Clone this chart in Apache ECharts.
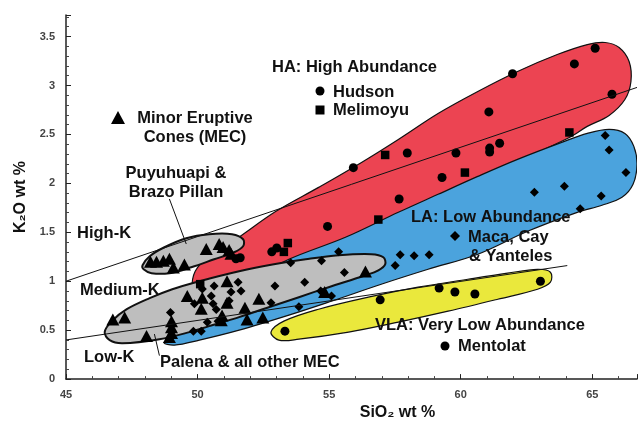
<!DOCTYPE html>
<html><head><meta charset="utf-8">
<script src="https://cdn.jsdelivr.net/npm/echarts@6/dist/echarts.min.js"></script>
<style>html,body{margin:0;padding:0;background:#fff}#c{width:640px;height:426px}</style>
</head><body><div id="c"></div>
<script>
// ---- tick labels ----
const xTickLabels = [45, 50, 55, 60, 65];
const yTickLabels = [0, 0.5, 1, 1.5, 2, 2.5, 3, 3.5];

// ---- data points [SiO2, K2O] ----
const hudson = [[65.11,3.38],[64.32,3.22],[61.97,3.12],[65.75,2.91],[61.07,2.73],[61.48,2.41],[61.10,2.36],[61.10,2.32],[59.82,2.31],[59.29,2.06],[57.97,2.31],[57.66,1.84],[55.92,2.16],[54.94,1.56],[53.01,1.34],[52.82,1.30],[51.62,1.24],[51.46,1.23]];
const melimoyu = [[57.13,2.29],[60.16,2.11],[64.13,2.52],[56.87,1.63],[53.43,1.39],[53.28,1.30],[50.10,0.97]];
const mentolat = [[53.32,0.49],[56.94,0.81],[59.18,0.93],[59.78,0.89],[60.54,0.87],[63.03,1.00]];
const macaCayYanteles = [[65.49,2.49],[65.64,2.34],[66.28,2.11],[63.94,1.97],[62.80,1.91],[65.34,1.87],[64.54,1.74],[57.70,1.27],[58.23,1.26],[58.80,1.27],[57.51,1.16],[55.36,1.30],[54.71,1.21],[53.54,1.19],[55.58,1.09],[54.07,0.99],[52.94,0.95],[53.85,0.74],[52.79,0.78],[55.09,0.85],[54.68,0.90],[51.54,0.99],[51.65,0.90],[51.27,0.89],[50.52,0.85],[50.63,0.95],[50.59,0.77],[50.71,0.71],[49.88,0.77],[50.78,0.59],[50.37,0.58],[49.84,0.49],[50.14,0.49],[48.97,0.68],[51.20,0.80],[50.18,0.92]];
const mecPuyuhuapi = [[48.21,1.20],[48.44,1.20],[48.70,1.21],[48.93,1.23],[49.08,1.14],[49.50,1.17],[50.33,1.33],[50.82,1.38],[50.97,1.35],[51.20,1.32],[51.27,1.28]];
const mecPalena = [[46.78,0.61],[47.23,0.63],[48.06,0.44],[49.01,0.59],[49.01,0.53],[49.01,0.47],[48.93,0.43],[49.61,0.85],[50.18,0.83],[50.14,0.72],[51.12,1.00],[51.12,0.78],[50.93,0.65],[50.90,0.60],[51.80,0.73],[52.33,0.82],[51.88,0.61],[52.48,0.63],[54.83,0.89],[56.38,1.10]];

// ---- region outlines [SiO2, K2O] ----
const regionHA = [[49.80,0.918],[49.91,1.102],[50.44,1.255],[51.46,1.429],[52.98,1.714],[54.60,1.959],[56.23,2.214],[57.63,2.449],[59.14,2.714],[60.65,2.939],[62.16,3.143],[63.67,3.316],[64.81,3.418],[65.49,3.439],[66.02,3.388],[66.40,3.245],[66.47,3.041],[66.24,2.857],[65.64,2.694],[64.81,2.582],[64.13,2.469],[62.16,2.225],[60.65,2.041],[59.14,1.857],[57.63,1.673],[55.62,1.408],[53.47,1.194],[51.96,1.041],[50.44,0.898],[49.99,0.878]];
const regionLA = [[48.74,0.378],[50.44,0.714],[52.33,1.051],[53.47,1.224],[55.62,1.449],[57.63,1.704],[59.14,1.888],[60.65,2.071],[62.16,2.245],[63.94,2.429],[64.81,2.510],[65.64,2.551],[66.24,2.510],[66.58,2.378],[66.70,2.194],[66.55,1.990],[66.13,1.857],[65.37,1.776],[64.43,1.704],[62.54,1.510],[60.65,1.276],[58.76,1.122],[56.98,0.969],[55.09,0.796],[53.47,0.653],[51.58,0.500],[50.07,0.398],[49.12,0.347]];
const regionVLA = [[52.79,0.480],[53.28,0.592],[54.60,0.714],[56.49,0.837],[58.38,0.939],[60.27,1.020],[61.78,1.082],[62.92,1.122],[63.41,1.092],[63.41,0.990],[62.92,0.918],[61.41,0.816],[59.52,0.694],[57.63,0.582],[55.74,0.480],[53.85,0.408],[53.09,0.398]];
const regionPalena = [[46.47,0.480],[46.74,0.592],[47.31,0.714],[48.18,0.827],[49.04,0.918],[50.07,1.000],[51.58,1.102],[52.90,1.173],[54.11,1.224],[55.36,1.265],[56.60,1.276],[57.06,1.245],[57.13,1.173],[56.87,1.112],[56.38,1.061],[54.98,0.939],[53.85,0.837],[52.82,0.745],[51.58,0.633],[50.44,0.541],[49.69,0.480],[48.55,0.408],[47.15,0.367],[46.66,0.398]];
const regionPuyuhuapi = [[47.91,1.163],[48.18,1.255],[48.74,1.347],[49.57,1.439],[50.44,1.480],[51.31,1.480],[51.73,1.429],[51.73,1.357],[51.39,1.296],[50.63,1.224],[49.76,1.143],[48.93,1.082],[48.25,1.082],[47.95,1.122]];

// ---- boundary & pointer lines ----
const highKLine = [[45,1.0],[66.7,2.98]];
const lowKLine = [[45,0.4],[64.05,1.16]];
const puyuhuapiPointer = [[48.93,1.84],[49.57,1.38]];
const palenaPointer = [[48.36,0.46],[48.55,0.24]];

function regionSeries(outline, fill, lw) {
  return {
    type: 'custom', coordinateSystem: 'cartesian2d', clip: true, silent: true,
    data: outline, encode: { x: 0, y: 1 },
    renderItem: function (params, api) {
      if (params.dataIndex !== 0) return null;
      const pts = outline.map(p => api.coord(p));
      return { type: 'polygon', shape: { points: pts, smooth: 0.35 },
               style: { fill: fill, stroke: '#111', lineWidth: lw } };
    }
  };
}
function lineSeries(d) {
  return { type: 'line', data: d, symbol: 'none', silent: true,
           lineStyle: { color: '#111', width: 1 }, animation: false };
}
function scatterSeries(d, symbol, size) {
  return { type: 'scatter', data: d, symbol: symbol, symbolSize: size, silent: true,
           itemStyle: { color: '#000', opacity: 1 } };
}

const FONT = 'bold 16.5px "Liberation Sans", Arial, sans-serif';
function txt(text, x, y, align) {
  return { type: 'text', x: x, y: y, z: 100,
           style: { text: text, font: FONT, fill: '#111', align: align || 'left', verticalAlign: 'middle', lineHeight: 19 } };
}

const chart = echarts.init(document.getElementById('c'), null, { renderer: 'canvas' });
chart.setOption({
  animation: false,
  backgroundColor: '#fff',
  grid: { left: 66, right: 0, top: 15, bottom: 46 },
  xAxis: {
    type: 'value', min: 45, max: 66.7, interval: 5,
    name: 'SiO₂ wt %', nameLocation: 'middle', nameGap: 24,
    nameTextStyle: { fontFamily: '"Liberation Sans", Arial', fontWeight: 'bold', fontSize: 16, color: '#111', padding: [0, 0, 0, 92] },
    axisLine: { lineStyle: { color: '#222', width: 1.5 } },
    axisTick: { inside: true, length: 5, lineStyle: { color: '#222' } },
    minorTick: { show: true, splitNumber: 5, length: 3, lineStyle: { color: '#444' } },
    splitLine: { show: false },
    axisLabel: { margin: 10, color: '#444', fontWeight: 'bold', fontSize: 11, fontFamily: '"Liberation Sans", Arial',
      formatter: v => xTickLabels.some(t => Math.abs(t - v) < 1e-6) ? String(v) : '' }
  },
  yAxis: {
    type: 'value', min: 0, max: 3.72, interval: 0.5,
    name: 'K₂O wt %', nameLocation: 'middle', nameGap: 36, nameRotate: 90,
    nameTextStyle: { fontFamily: '"Liberation Sans", Arial', fontWeight: 'bold', fontSize: 16, color: '#111' },
    axisLine: { show: true, lineStyle: { color: '#222', width: 1.5 } },
    axisTick: { show: true, inside: true, length: 5, lineStyle: { color: '#222' } },
    minorTick: { show: true, splitNumber: 5, length: 3, lineStyle: { color: '#444' } },
    splitLine: { show: false },
    axisLabel: { margin: 11, color: '#444', fontWeight: 'bold', fontSize: 11, fontFamily: '"Liberation Sans", Arial',
      formatter: v => yTickLabels.some(t => Math.abs(t - v) < 1e-6) ? String(v) : '' }
  },
  series: [
    regionSeries(regionHA, '#EC4452', 1.2),
    regionSeries(regionLA, '#4BA3DD', 1.2),
    regionSeries(regionVLA, '#EAE83C', 1.2),
    regionSeries(regionPalena, '#BEBEBE', 2),
    regionSeries(regionPuyuhuapi, '#BEBEBE', 2),
    lineSeries(highKLine),
    lineSeries(lowKLine),
    lineSeries(puyuhuapiPointer),
    lineSeries(palenaPointer),
    scatterSeries(macaCayYanteles, 'diamond', 9),
    scatterSeries(hudson, 'circle', 9),
    scatterSeries(melimoyu, 'rect', 8.5),
    scatterSeries(mentolat, 'circle', 9),
    scatterSeries(mecPuyuhuapi, 'triangle', [13, 12]),
    scatterSeries(mecPalena, 'triangle', [13, 12])
  ],
  graphic: [
    txt('Minor Eruptive\nCones (MEC)', 195, 127.5, 'center'),
    txt('Puyuhuapi &\nBrazo Pillan', 176, 183, 'center'),
    txt('HA: High Abundance', 272, 67),
    txt('Hudson', 333, 92),
    txt('Melimoyu', 333, 110),
    txt('LA: Low Abundance', 411, 217),
    txt('Maca, Cay', 468, 237),
    txt('& Yanteles', 469, 256),
    txt('VLA: Very Low Abundance', 375, 325),
    txt('Mentolat', 458, 346),
    txt('High-K', 77, 233),
    txt('Medium-K', 80, 290),
    txt('Low-K', 84, 357),
    txt('Palena & all other MEC', 160, 362),
    { type: 'polygon', z: 100, shape: { points: [[111, 124], [125, 124], [118, 111]] }, style: { fill: '#000' } },
    { type: 'circle', z: 100, shape: { cx: 320, cy: 91, r: 4.5 }, style: { fill: '#000' } },
    { type: 'rect', z: 100, shape: { x: 315.5, y: 105.5, width: 9, height: 9 }, style: { fill: '#000' } },
    { type: 'polygon', z: 100, shape: { points: [[455, 231], [460, 236], [455, 241], [450, 236]] }, style: { fill: '#000' } },
    { type: 'circle', z: 100, shape: { cx: 445, cy: 346, r: 4.5 }, style: { fill: '#000' } }
  ]
});
</script>
</body></html>
